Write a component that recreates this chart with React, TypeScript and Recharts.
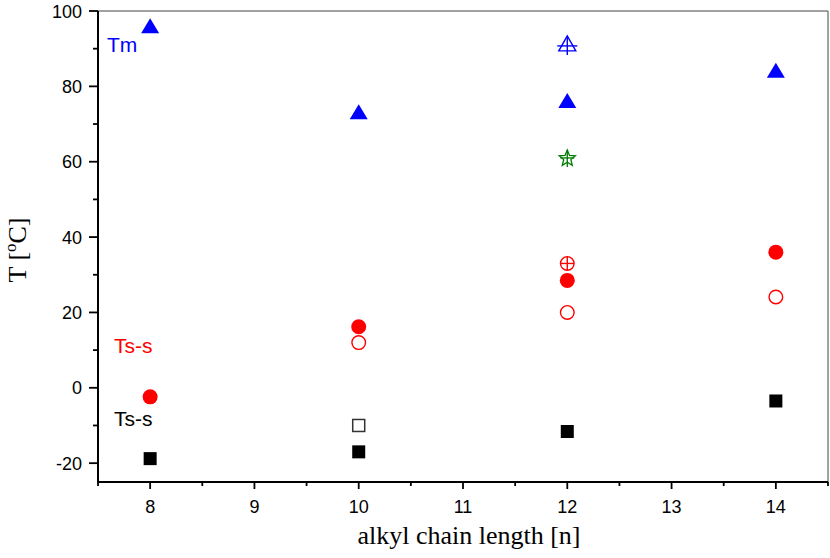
import React from 'react';
import { ScatterChart, Scatter, XAxis, YAxis, ReferenceLine, Label } from 'recharts';

// melting points (blue triangles)
const tmFilled = [
  { n: 8, t: 95.8 },
  { n: 10, t: 73 },
  { n: 12, t: 76 },
  { n: 14, t: 84 },
];
const tmCrossed = [{ n: 12, t: 91 }];
const tmStar = [{ n: 12, t: 61 }];

// solid-solid transitions (red circles)
const tssFilled = [
  { n: 8, t: -2.4 },
  { n: 10, t: 16.2 },
  { n: 12, t: 28.5 },
  { n: 14, t: 36 },
];
const tssOpen = [
  { n: 10, t: 12 },
  { n: 12, t: 20 },
  { n: 14, t: 24.1 },
];
const tssCrossed = [{ n: 12, t: 33 }];

// solid-solid transitions (black squares)
const sqFilled = [
  { n: 8, t: -18.8 },
  { n: 10, t: -17 },
  { n: 12, t: -11.6 },
  { n: 14, t: -3.5 },
];
const sqOpen = [{ n: 10, t: -10 }];

const xMajor = [8, 9, 10, 11, 12, 13, 14];
const xMinor = [7.5, 8.5, 9.5, 10.5, 11.5, 12.5, 13.5, 14.5];
const yMajor = [-20, 0, 20, 40, 60, 80, 100];
const yMinor = [-10, 10, 30, 50, 70, 90];

const BLUE = '#0000ff';
const RED = '#ff0000';
const GREEN = '#007a00';
const SANS = '"Liberation Sans", Arial, sans-serif';
const SERIF = '"Liberation Serif", "Times New Roman", serif';

const xTicks = [...xMajor, ...xMinor].sort((a, b) => a - b);
const yTicks = [...yMajor, ...yMinor].sort((a, b) => a - b);

const XTick = (props: any) => {
  const { x, y, payload } = props;
  const major = xMajor.includes(payload.value);
  return (
    <g>
      <line x1={x} x2={x} y1={y} y2={y + (major ? 7 : 4)} stroke="#000" strokeWidth={1.8} />
      {major && (
        <text x={x} y={y + 31} textAnchor="middle" fontSize={18} fontFamily={SANS} fill="#000">
          {payload.value}
        </text>
      )}
    </g>
  );
};

const YTick = (props: any) => {
  const { x, y, payload } = props;
  const major = yMajor.includes(payload.value);
  return (
    <g>
      <line x1={x} x2={x - (major ? 9 : 5)} y1={y} y2={y} stroke="#000" strokeWidth={1.8} />
      {major && (
        <text x={x - 16} y={y + 6.5} textAnchor="end" fontSize={18} fontFamily={SANS} fill="#000">
          {payload.value}
        </text>
      )}
    </g>
  );
};

const triFilled = ({ cx, cy }: any) => (
  <polygon points={`${cx},${cy - 8.5} ${cx - 9},${cy + 6.5} ${cx + 9},${cy + 6.5}`} fill={BLUE} />
);

const triCrossed = ({ cx, cy }: any) => (
  <g stroke={BLUE} strokeWidth={1.4} fill="none">
    <polygon points={`${cx},${cy - 9} ${cx - 8.5},${cy + 6} ${cx + 8.5},${cy + 6}`} />
    <line x1={cx} x2={cx} y1={cy - 9} y2={cy + 10} />
    <line x1={cx - 10} x2={cx + 10} y1={cy + 1} y2={cy + 1} />
  </g>
);

const starCrossed = ({ cx, cy }: any) => {
  const pts: string[] = [];
  for (let i = 0; i < 10; i++) {
    const r = i % 2 === 0 ? 8.5 : 3.8;
    const a = -Math.PI / 2 + (i * Math.PI) / 5;
    pts.push(`${cx + r * Math.cos(a)},${cy + 0.5 + r * Math.sin(a)}`);
  }
  return (
    <g stroke={GREEN} strokeWidth={1.3} fill="none">
      <polygon points={pts.join(' ')} />
      <line x1={cx} x2={cx} y1={cy - 8} y2={cy + 9} />
      <line x1={cx - 7} x2={cx + 7} y1={cy} y2={cy} />
    </g>
  );
};

const dotFilled = ({ cx, cy }: any) => <circle cx={cx} cy={cy} r={7.5} fill={RED} />;

const dotOpen = ({ cx, cy }: any) => (
  <circle cx={cx} cy={cy} r={6.8} fill="none" stroke={RED} strokeWidth={1.4} />
);

const dotCrossed = ({ cx, cy }: any) => (
  <g stroke={RED} strokeWidth={1.4} fill="none">
    <circle cx={cx} cy={cy} r={6.8} />
    <line x1={cx} x2={cx} y1={cy - 6.8} y2={cy + 6.8} />
    <line x1={cx - 6.8} x2={cx + 6.8} y1={cy} y2={cy} />
  </g>
);

const sqFilledShape = ({ cx, cy }: any) => (
  <rect x={cx - 6.5} y={cy - 6.5} width={13} height={13} fill="#000" />
);

const sqOpenShape = ({ cx, cy }: any) => (
  <rect x={cx - 6} y={cy - 6} width={12} height={12} fill="none" stroke="#333" strokeWidth={1.5} />
);

const YTitle = () => (
  <text
    transform="rotate(-90, 26, 250)"
    x={26}
    y={250}
    textAnchor="middle"
    fontSize={26}
    fontFamily={SERIF}
    fill="#000"
  >
    T [<tspan fontSize={17} dy={-10}>o</tspan>
    <tspan dy={10}>C]</tspan>
  </text>
);

const XTitle = () => (
  <text x={469} y={544} textAnchor="middle" fontSize={26} fontFamily={SERIF} fill="#000">
    alkyl chain length [n]
  </text>
);

export default function App() {
  return (
    <div style={{ position: 'absolute', left: 0, top: 0, width: 830, height: 558, background: '#fff' }}>
      <ScatterChart width={830} height={558} margin={{ top: 11, right: 2, bottom: 0, left: 0 }}>
        <XAxis
          type="number"
          dataKey="n"
          domain={[7.5, 14.5]}
          ticks={xTicks}
          interval={0}
          tickSize={0}
          tickMargin={0}
          tickLine={false}
          tick={<XTick />}
          height={76}
          axisLine={{ stroke: '#000', strokeWidth: 2 }}
        >
          <Label content={<XTitle />} />
        </XAxis>
        <YAxis
          type="number"
          dataKey="t"
          domain={[-25, 100]}
          ticks={yTicks}
          interval={0}
          tickSize={0}
          tickMargin={0}
          tickLine={false}
          tick={<YTick />}
          width={98}
          axisLine={{ stroke: '#000', strokeWidth: 2 }}
        >
          <Label content={<YTitle />} />
        </YAxis>
        <ReferenceLine y={100} stroke="#444" strokeWidth={1} />
        <ReferenceLine x={14.5} stroke="#444" strokeWidth={1} />
        <Scatter data={sqFilled} shape={sqFilledShape} isAnimationActive={false} />
        <Scatter data={sqOpen} shape={sqOpenShape} isAnimationActive={false} />
        <Scatter data={tssFilled} shape={dotFilled} isAnimationActive={false} />
        <Scatter data={tssOpen} shape={dotOpen} isAnimationActive={false} />
        <Scatter data={tssCrossed} shape={dotCrossed} isAnimationActive={false} />
        <Scatter data={tmFilled} shape={triFilled} isAnimationActive={false} />
        <Scatter data={tmCrossed} shape={triCrossed} isAnimationActive={false} />
        <Scatter data={tmStar} shape={starCrossed} isAnimationActive={false} />
      </ScatterChart>
      <svg width={830} height={558} style={{ position: 'absolute', left: 0, top: 0, pointerEvents: 'none' }}>
        <text x={107} y={52} fontSize={21} fontFamily={SANS} fill={BLUE}>Tm</text>
        <text x={114} y={353} fontSize={21} fontFamily={SANS} fill={RED}>Ts-s</text>
        <text x={114} y={426} fontSize={21} fontFamily={SANS} fill="#000">Ts-s</text>
      </svg>
    </div>
  );
}
